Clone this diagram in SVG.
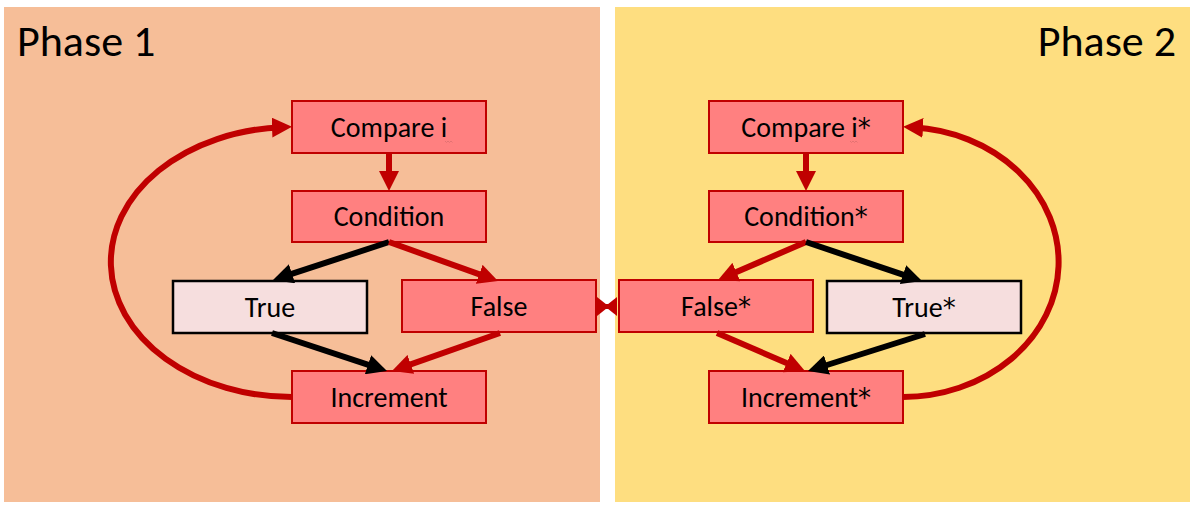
<svg xmlns="http://www.w3.org/2000/svg" width="1194" height="529" viewBox="0 0 1194 529">
  <style>
    .lbl { font-family: Calibri, Carlito, Lato, "Liberation Sans", sans-serif; font-size: 28px; fill: #000; text-anchor: middle; }
    .ast { font-family: "DejaVu Sans", sans-serif; font-size: 26px; }
    .phase { font-family: Calibri, Carlito, Lato, "Liberation Sans", sans-serif; font-size: 44px; fill: #000; }
    .red { fill: #FF8080; stroke: #C00000; stroke-width: 2; }
    .light { fill: #F6DEDE; stroke: #000; stroke-width: 2.5; }
    .cr { fill: none; stroke: #C00000; stroke-width: 6; marker-end: url(#ahR); }
    .cb { fill: none; stroke: #000; stroke-width: 6; marker-end: url(#ahB); }
    .squig { fill: none; stroke: #E07070; stroke-width: 0.9; }
  </style>
  <defs>
    <marker id="ahR" viewBox="0 0 20 20" refX="10" refY="10" markerWidth="20" markerHeight="20" markerUnits="userSpaceOnUse" orient="auto">
      <path d="M0,0 L20,10 L0,20 z" fill="#C00000"/>
    </marker>
    <marker id="ahB" viewBox="0 0 20 20" refX="10" refY="10" markerWidth="20" markerHeight="20" markerUnits="userSpaceOnUse" orient="auto">
      <path d="M0,0 L20,10 L0,20 z" fill="#000"/>
    </marker>
  </defs>

  <rect width="1194" height="529" fill="#FFFFFF"/>

  <g id="phase1">
    <rect x="4" y="7" width="596" height="495" fill="#F6BE98"/>
    <text class="phase" x="17" y="56">Phase 1</text>
  </g>
  <g id="phase2">
    <rect x="615" y="7" width="575" height="495" fill="#FEDE80"/>
    <text class="phase" x="1176" y="56" text-anchor="end">Phase 2</text>
  </g>

  <g id="compare1">
    <rect class="red" x="292" y="101" width="194" height="52"/>
    <text class="lbl" x="389" y="137">Compare i</text>
    <path class="squig" d="M445,141 l1.5,1.5 l1.5,-1.5 l1.5,1.5 l1.5,-1.5 l1.5,1.5"/>
  </g>
  <g id="condition1">
    <rect class="red" x="292" y="191" width="194" height="51"/>
    <text class="lbl" x="389" y="226">Condition</text>
  </g>
  <g id="true1">
    <rect class="light" x="173" y="281" width="194" height="52"/>
    <text class="lbl" x="270" y="317">True</text>
  </g>
  <g id="false1">
    <rect class="red" x="402" y="280" width="194" height="52"/>
    <text class="lbl" x="499" y="316">False</text>
  </g>
  <g id="increment1">
    <rect class="red" x="292" y="371" width="194" height="52"/>
    <text class="lbl" x="389" y="407">Increment</text>
  </g>

  <g id="compare2">
    <rect class="red" x="709" y="101" width="194" height="52"/>
    <text class="lbl" x="806" y="137">Compare i<tspan class="ast">*</tspan></text>
    <path class="squig" d="M850,141 l1.5,1.5 l1.5,-1.5 l1.5,1.5 l1.5,-1.5 l1.5,1.5"/>
  </g>
  <g id="condition2">
    <rect class="red" x="709" y="191" width="194" height="51"/>
    <text class="lbl" x="806" y="226">Condition<tspan class="ast">*</tspan></text>
  </g>
  <g id="false2">
    <rect class="red" x="619" y="280" width="194" height="52"/>
    <text class="lbl" x="716" y="316">False<tspan class="ast">*</tspan></text>
  </g>
  <g id="true2">
    <rect class="light" x="827" y="281" width="194" height="52"/>
    <text class="lbl" x="924" y="317">True<tspan class="ast">*</tspan></text>
  </g>
  <g id="increment2">
    <rect class="red" x="709" y="371" width="194" height="52"/>
    <text class="lbl" x="806" y="407">Increment<tspan class="ast">*</tspan></text>
  </g>

  <g id="connectors">
    <path class="cr" d="M389,153 L389,181"/>
    <path class="cb" d="M389,242 L282.5,276.9"/>
    <path class="cr" d="M389,242 L488.6,277.6"/>
    <path class="cb" d="M272,333 L377.5,367.9"/>
    <path class="cr" d="M500,333 L401.4,367.7"/>
    <path class="cr" d="M292,397 A181,135 0 0 1 282,127.2"/>

    <path class="cr" d="M806,153 L806,181"/>
    <path class="cr" d="M806,242 L727.2,276"/>
    <path class="cb" d="M806,242 L912.5,277.8"/>
    <path class="cr" d="M717,333 L795.8,367"/>
    <path class="cb" d="M925,334 L817.5,368"/>
    <path class="cr" d="M903,397 A156,135 0 0 0 913,127.3"/>

    <g id="false-link" fill="#C00000">
      <path d="M597,306.5 L617,306.5" stroke="#C00000" stroke-width="5"/>
      <polygon points="597,297 609,306.5 597,316"/>
      <polygon points="617,297 605,306.5 617,316"/>
    </g>
  </g>
</svg>
